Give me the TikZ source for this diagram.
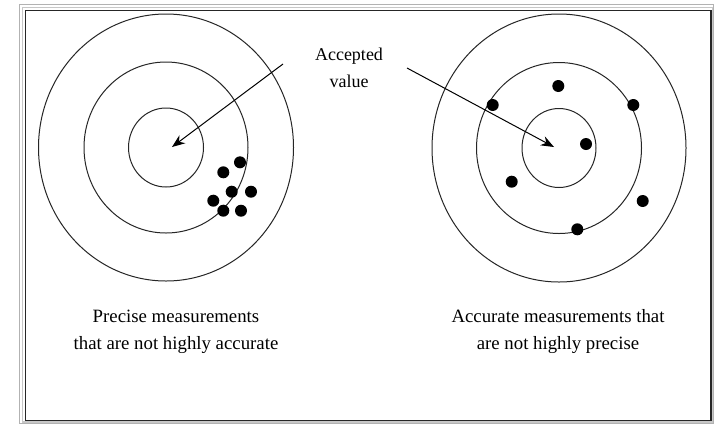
\documentclass[tikz,border=0pt]{standalone}
\usepackage{fontspec}
\setmainfont{Liberation Serif}
\usetikzlibrary{arrows.meta}
\begin{document}
\begin{tikzpicture}[x=1pt,y=-1pt,
  ring/.style={draw=black!85,line width=1pt},
  shot/.style={fill=black,circle,inner sep=0pt,minimum size=12pt},
  pointer/.style={draw=black,line width=1pt,-{Stealth[length=13pt,width=10pt]}},
  caption/.style={font=\fontsize{18}{27}\selectfont,align=center,inner sep=0pt},
  bigcaption/.style={font=\fontsize{18.8}{27}\selectfont,align=center,inner sep=0pt}]
\useasboundingbox (0,0) rectangle (714,424);
\fill[white] (0,0) rectangle (714,424);
% frame
\draw[black!30,line width=1.2pt] (19.5,4.5) rectangle (713.5,423.5);
\draw[black!22,line width=1.2pt] (22.5,7.5) rectangle (712.5,422);
\draw[black!85,line width=1.3pt] (25.5,10.5) rectangle (711,420.5);
% left target
\coordinate (L) at (166,147.5);
\draw[ring] (L) ellipse [x radius=37.5,y radius=39.5];
\draw[ring] (L) ellipse [x radius=82,y radius=85.5];
\draw[ring] (L) ellipse [x radius=127.5,y radius=133.5];
% right target
\coordinate (R) at (559,148);
\draw[ring] (R) ellipse [x radius=37,y radius=39.5];
\draw[ring] (R) ellipse [x radius=82.5,y radius=85.5];
\draw[ring] (R) ellipse [x radius=127,y radius=134];
% left shots
\node[shot] (l1) at (240,162.3) {};
\node[shot] (l2) at (223.3,172.3) {};
\node[shot] (l3) at (231.7,191.7) {};
\node[shot] (l4) at (251,191.7) {};
\node[shot] (l5) at (213.3,200.7) {};
\node[shot] (l6) at (223.3,210.7) {};
\node[shot] (l7) at (241,210.7) {};
% right shots
\node[shot] (r1) at (558.3,86) {};
\node[shot] (r2) at (492.7,105) {};
\node[shot] (r3) at (633.3,105) {};
\node[shot] (r4) at (586,144) {};
\node[shot] (r5) at (511.7,181.7) {};
\node[shot] (r6) at (642.7,201) {};
\node[shot] (r7) at (577.3,229.3) {};
% label and arrows
\node[caption] (acc) at (349,68) {Accepted\\value};
\coordinate (ls) at (283,64);
\coordinate (lt) at (172,147);
\coordinate (rs) at (407,68);
\coordinate (rt) at (554,147);
\draw[pointer] (ls) -- (lt);
\draw[pointer] (rs) -- (rt);
% captions
\node[bigcaption] (capl) at (176,331.5) {Precise measurements\\that are not highly accurate};
\node[bigcaption] (capr) at (558,331.5) {Accurate measurements that\\are not highly precise};
\end{tikzpicture}
\end{document}
